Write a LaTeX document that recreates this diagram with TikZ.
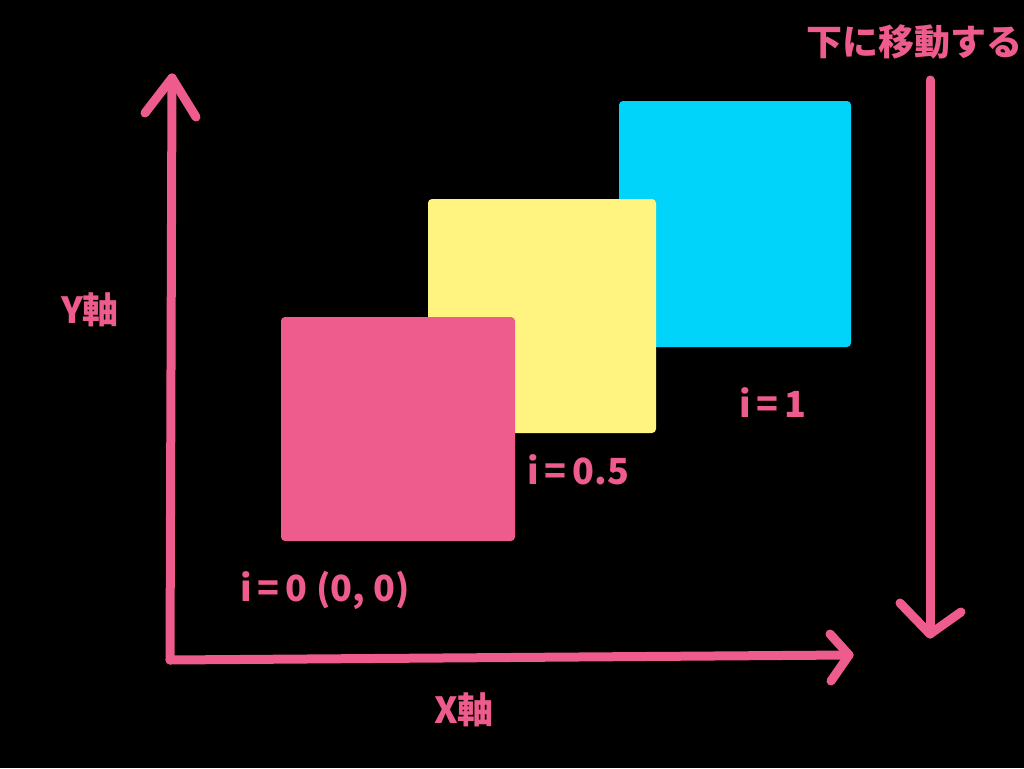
\documentclass[tikz,border=0pt]{standalone}
\usepackage{fontspec}
\setmainfont{Noto Sans CJK JP}
\definecolor{pk}{HTML}{EE5B8D}
\definecolor{yl}{HTML}{FFF47F}
\definecolor{cy}{HTML}{00D4FA}
\begin{document}
\begin{tikzpicture}[x=1pt,y=-1pt,
  axis/.style={draw=pk,line width=9pt,line cap=round,line join=round},
  sq/.style={rounded corners=4pt},
  lab/.style={text=pk,font=\fontsize{36}{42}\selectfont\bfseries,inner sep=0pt}]
\fill[black] (0,0) rectangle (1024,768);
\useasboundingbox (0,0) rectangle (1024,768);
% squares
\fill[cy,sq] (619,101) rectangle (851,347);
\fill[yl,sq] (428,199) rectangle (656,433);
\fill[pk,sq] (281,317) rectangle (515,541);
% coordinates
\coordinate (O) at (170,660);
\coordinate (Ytip) at (172,78);
\coordinate (Yl) at (145,113);
\coordinate (Yr) at (196,117);
\coordinate (Xtip) at (849,655);
\coordinate (Xu) at (830,634);
\coordinate (Xd) at (831,681);
\coordinate (Dtop) at (930,80);
\coordinate (Dtip) at (930,634);
\coordinate (Dl) at (900,603);
\coordinate (Dr) at (961,612);
\draw[axis] (O) -- (Ytip);
\draw[axis] (Yl) -- (Ytip) -- (Yr);
\draw[axis] (O) -- (Xtip);
\draw[axis] (Xu) -- (Xtip) -- (Xd);
\draw[axis] (Dtop) -- (Dtip);
\draw[axis] (Dl) -- (Dtip) -- (Dr);
% labels
\node[lab] (ylab) at (90,310) {Y軸};
\node[lab] (xlab) at (464,710) {X軸};
\node[lab] (l0) at (325,590) {i\,=\,0 (0, 0)};
\node[lab] (l05) at (578,470) {i\,=\,0.5};
\node[lab] (l1) at (773,403) {i\,=\,1};
\node[lab] (down) at (914,42) {下に移動する};
\end{tikzpicture}
\end{document}
